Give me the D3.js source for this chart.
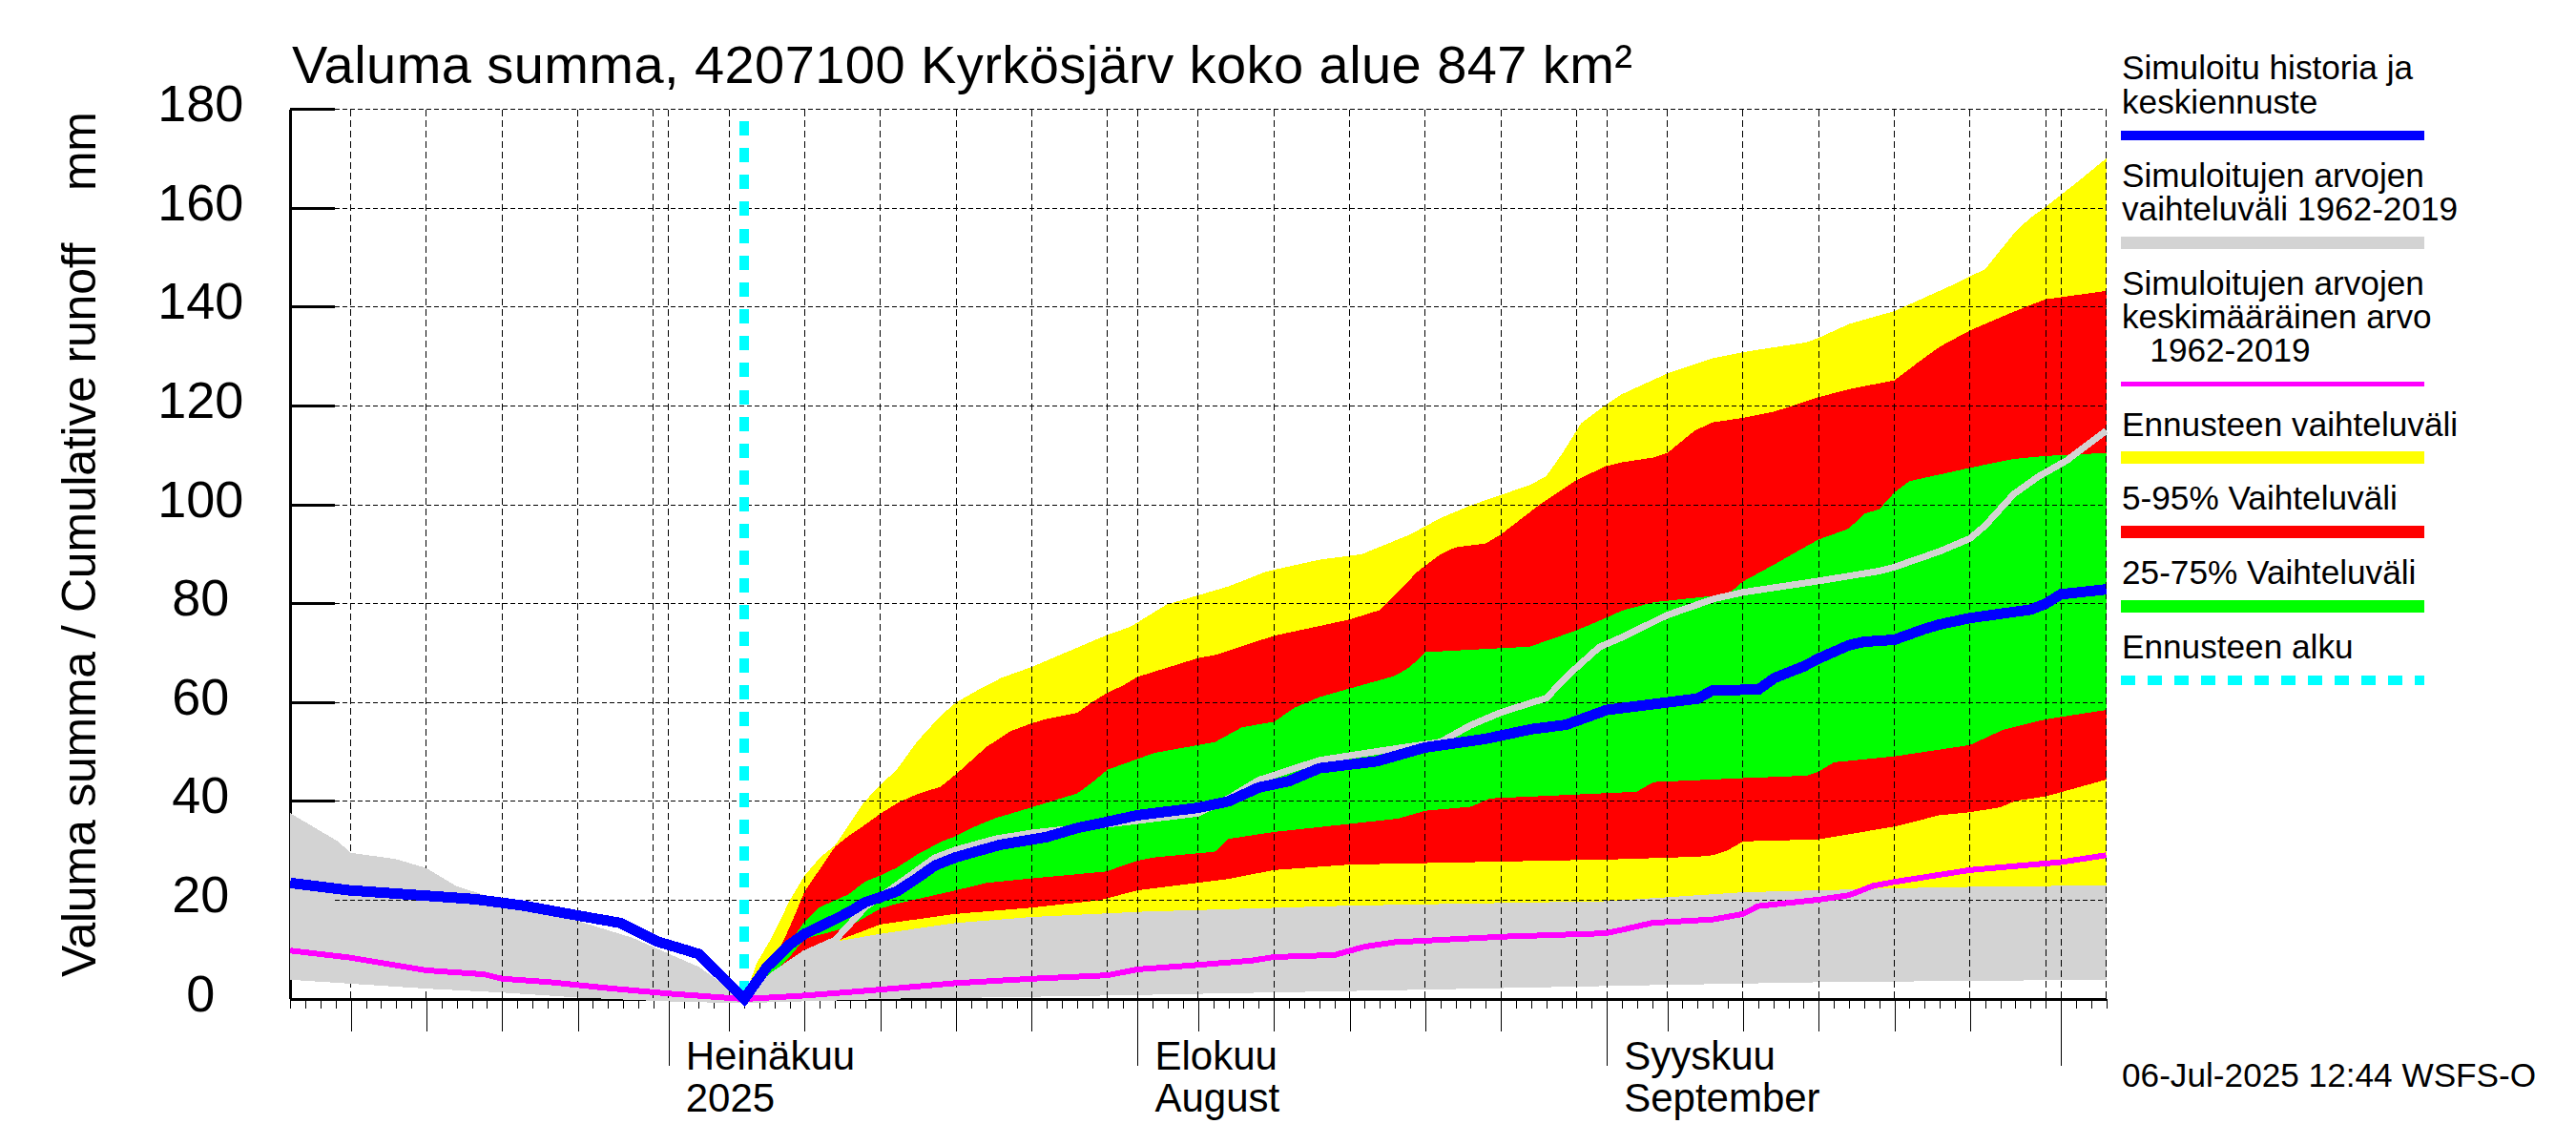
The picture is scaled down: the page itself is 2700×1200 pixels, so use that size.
<!DOCTYPE html>
<html>
<head>
<meta charset="utf-8">
<script src="https://cdnjs.cloudflare.com/ajax/libs/d3/7.8.5/d3.min.js"></script>
<style>
body { margin: 0; background: #fff; }
svg { display: block; font-family: "Liberation Sans", sans-serif; }
.marks { shape-rendering: crispEdges; }
</style>
</head>
<body>
<div id="chart"></div>
<script>
// all series are [day, mm], day 0 = 6 Jun 2025
var greyHistoryTop = [[0,37.6],[3.1,32],[4,29.6],[7,28.3],[9,26.5],[11,22.8],[13,20.9],[15,19.5],[19,15.8],[22.6,12.4],[27,6.5],[30,0]];
var greyLow = [[0,3.9],[9,2.1],[14,1.3],[19,0.3],[22,-0.1],[26,-0.6],[30,-0.8],[36,-0.3],[41.5,0.2],[43.9,0.2],[54,0.7],[75,1.9],[88,2.7],[101,3.4],[112,3.7],[120,3.9]];
var greyLine = [[30,0],[32,5],[34,9.2],[36,11.9],[38,18.6],[40.1,23.1],[42.6,28.6],[44,30.2],[46.6,32.4],[49,33.6],[51.9,34.6],[56,36.1],[60,37.6],[62,40.6],[64,44.3],[68,48.3],[72,50.2],[76,52],[78,55.4],[80,58],[83,60.9],[84.5,65.7],[86.5,71.2],[88,73.2],[91,77.7],[94.1,81],[96,82.3],[101,84.6],[105,86.6],[106,87.4],[109,90.6],[111,93.2],[112,95.8],[113.9,102.2],[115.5,105.7],[117.4,109],[120,115]];
var yellowTop = [[30,0],[30.8,7.1],[31.9,12.9],[33,19.9],[34,25],[35,28.6],[36,31.1],[37.9,39.8],[39,43.3],[40.1,46.5],[41.4,52],[43,57.4],[44,60],[45.6,62.8],[47,65],[49,67.2],[51,69.8],[54,73.7],[55.5,75.3],[57.9,79.8],[62,83.5],[64.5,86.5],[68,88.9],[70.8,90],[74,94],[76,97.3],[78,99.9],[80,102],[81.9,104],[83,105.8],[84.1,110.6],[85.3,116.5],[86.9,120.2],[88,122.4],[91,126.6],[93.9,129.6],[96,130.9],[100.2,132.9],[101,133.8],[103,136.6],[106,139.2],[109.7,144.3],[112,147.7],[114,155.3],[115,158.1],[116,160.3],[118.2,165.6],[120,170.1]];
var yellowLow = [[30,0],[32,5],[34,9.2],[36,11.6],[39,13.2],[44,15.4],[49,16.6],[56.5,17.7],[60,18],[70,18.9],[87,19.8],[88,20],[91,20.6],[96,21.6],[101,22],[106,22.4],[111,22.7],[120,23]];
var redTop = [[30,0],[32,8],[33,14.5],[34,21.8],[36,30.8],[36.9,33],[38,35.3],[39,37.5],[40.2,39.8],[41.4,41.4],[43,43],[44,45.5],[46,51],[47.6,54.2],[49,55.8],[50,56.7],[52,57.9],[52.9,59.9],[54,62],[55,63.4],[56,65.2],[60,69],[61.1,69.6],[65,73.5],[70,76.8],[72,78.7],[74.5,86.5],[76,90],[77,91.4],[79,92.2],[80,94],[82.5,99.9],[85,105],[86.9,107.8],[88,108.6],[90.1,109.6],[91,110.5],[92.8,115],[94,116.7],[96,117.6],[98.1,118.9],[101,121.8],[103,123.4],[106,125.2],[107.6,128.9],[109,132],[111,135.3],[113.2,138.2],[114.7,140.1],[116,141.6],[117.9,142.4],[120,143.3]];
var redLow = [[30,0],[32,5],[34,9.2],[36,11.6],[39,15.1],[43.9,17.2],[49,18.5],[53.5,20],[56,22],[62,24.3],[65,26.1],[70,27.2],[88,28.3],[93,28.8],[94,29.1],[95,30.1],[96,31.9],[101,32.3],[106,34.9],[109,37.2],[111,37.8],[113,38.8],[114,40.1],[116,41],[120,44.4]];
var greenTop = [[30,0],[32,7.5],[33,11.5],[34,15.7],[35,18.6],[36.9,21.2],[38,23.8],[39,25],[40.1,26.6],[41.4,29.2],[43,31.8],[44,33],[45,34.6],[46.6,36.6],[49,38.8],[52,41.6],[52.9,43.6],[54,46.4],[57.1,49.8],[61.1,52],[62.9,55],[65,56.1],[66.4,59],[68,61.1],[73,65.4],[74,67.2],[75,70.2],[81.9,71.3],[85,74.6],[87,77.2],[88,78.6],[90.1,80.3],[95,81.9],[96,84.5],[98.1,88],[100,91.3],[101,93],[103,95.2],[104,98.2],[105,99.1],[106,102.5],[107,104.8],[111,107.5],[113.9,109.3],[116,109.9],[120,110.5]];
var greenLow = [[30,0],[32,5.5],[33,8.5],[34,12.2],[36,13.8],[37,14.8],[39,18.3],[40.1,19.3],[44,22],[46,23.5],[49,24.4],[53.9,25.8],[56,28],[57.2,28.7],[61.1,29.8],[62,32.4],[65,33.8],[73.2,36.5],[75,38.1],[78,38.9],[79.3,40.6],[88,41.8],[89,42],[90.1,43.9],[96,44.7],[100.2,45.2],[101,46],[102,47.9],[106,49.1],[111,51.4],[113.2,54.5],[116,56.6],[120,58.5]];
var meanValues = [[0,9.8],[3.9,8.4],[9,5.8],[12.8,5],[14,4.1],[17.2,3.4],[21,2.2],[25,1.1],[30,0],[34,0.7],[39,1.9],[43.9,3.2],[49,4.1],[54,4.8],[56,6],[60,6.9],[63.6,7.8],[65,8.5],[69,8.9],[71,10.6],[73,11.5],[75,11.8],[80,12.6],[86.9,13.3],[88,14],[90,15.4],[94,16.1],[96,17.2],[97,18.8],[101,20.1],[103,21],[104.6,22.9],[106,23.7],[111,26.1],[117,27.7],[120,29.1]];
var forecastMean = [[0,23.5],[3.9,22],[9,20.9],[12.2,20.2],[15.4,18.9],[19,16.9],[21.8,15.4],[24.2,11.7],[27,9.1],[30,0],[31.5,6.5],[33,11],[34,13.2],[35.9,16],[37,17.7],[38,19.6],[39,20.6],[40.1,21.8],[41.4,24.4],[42.6,27],[44,28.7],[46.9,31.2],[50,32.8],[52,34.6],[53.9,35.8],[56,37.2],[60,38.7],[62,40],[64,42.8],[66,44.1],[68,46.7],[71.8,48.1],[75,50.9],[78.9,52.6],[82,54.6],[84.3,55.5],[87,58.5],[93,60.8],[94,62.5],[97,62.6],[98.1,65],[100,67.3],[101,68.9],[103,71.6],[104,72.3],[106,72.7],[108,74.9],[109,75.8],[111,77.1],[115,78.8],[116,80],[117,81.9],[120,82.9]];

var yTicks = [0, 20, 40, 60, 80, 100, 120, 140, 160, 180];
var forecastDay = 30;
var monthDays = [25, 56, 87, 117];
var fiveDays = [4, 9, 14, 19, 29, 34, 39, 44, 49, 60, 65, 70, 75, 80, 91, 96, 101, 106, 111];
var shortGridDays = [24, 54, 85, 116, 120];
var monthLabels = [
    {day: 25, lines: ["Heinäkuu", "2025"]},
    {day: 56, lines: ["Elokuu", "August"]},
    {day: 87, lines: ["Syyskuu", "September"]}
];
var legendText = [
    {lines: ["Simuloitu historia ja", "keskiennuste"], color: "#0000ff", size: 10},
    {lines: ["Simuloitujen arvojen", "vaihteluväli 1962-2019"], color: "#d3d3d3", size: 13},
    {lines: ["Simuloitujen arvojen", "keskimääräinen arvo", "   1962-2019"], color: "#ff00ff", size: 5},
    {lines: ["Ennusteen vaihteluväli"], color: "#ffff00", size: 13},
    {lines: ["5-95% Vaihteluväli"], color: "#ff0000", size: 13},
    {lines: ["25-75% Vaihteluväli"], color: "#00ff00", size: 13},
    {lines: ["Ennusteen alku"], color: "#00ffff", size: 10, dash: "15,13"}
];
var legendBaselines = [[83.4, 118.6], [196, 230.8], [308.8, 344.4, 378.9], [457.3], [533.9], [612.2], [690]];
var legendSwatchY = [141.6, 254.5, 402.2, 479.5, 557.6, 635.6, 712.9];

var svg = d3.select("#chart").append("svg")
    .attr("width", 2700)
    .attr("height", 1200);

var xScale = d3.scaleLinear().domain([0, 120]).range([304.2, 2207.6]);
var yScale = d3.scaleLinear().domain([0, 180]).range([1047, 114.8]);

var marks = svg.append("g").attr("class", "marks");

var line = d3.line()
    .x(function(d){ return xScale(d[0]); })
    .y(function(d){ return yScale(d[1]); });

function band(top, low) {
    return line(top.concat(low.slice().reverse())) + "Z";
}

function bottomAxis(days, size) {
    var g = marks.append("g")
        .attr("transform", "translate(0," + yScale(0) + ")")
        .call(d3.axisBottom(xScale).tickValues(days).tickSize(size).tickFormat(""));
    g.select(".domain").remove();
    g.selectAll("line").attr("stroke", "#000").attr("stroke-width", 1);
}

// axes go first, the grey band covers them in places
bottomAxis(d3.range(0, 121), 10);
bottomAxis(fiveDays, 34);
bottomAxis(monthDays, 70);

marks.append("line")
    .attr("x1", xScale(0)).attr("x2", xScale(120))
    .attr("y1", yScale(0)).attr("y2", yScale(0))
    .attr("stroke", "#000").attr("stroke-width", 3);
marks.append("line")
    .attr("x1", xScale(0)).attr("x2", xScale(0))
    .attr("y1", yScale(180)).attr("y2", yScale(0))
    .attr("stroke", "#000").attr("stroke-width", 3);

var yAxis = svg.append("g")
    .attr("transform", "translate(" + xScale(0) + ",0)")
    .call(d3.axisLeft(yScale).tickValues(yTicks).tickSize(0).tickFormat(d3.format("d")));
yAxis.select(".domain").remove();
yAxis.selectAll("text")
    .attr("x", -94)
    .attr("dy", 12)
    .attr("text-anchor", "middle")
    .attr("font-family", "Liberation Sans")
    .attr("font-size", 54)
    .attr("fill", "#000");

marks.selectAll(".y-tick")
    .data(yTicks.slice(1))
    .enter().append("line")
    .attr("class", "y-tick")
    .attr("x1", xScale(0)).attr("x2", 351)
    .attr("y1", function(d){ return yScale(d); })
    .attr("y2", function(d){ return yScale(d); })
    .attr("stroke", "#000")
    .attr("stroke-width", function(d){ return d == 20 ? 1 : 3; });

function vGrid(days) {
    marks.append("g").selectAll("line")
        .data(days)
        .enter().append("line")
        .attr("x1", function(d){ return xScale(d); })
        .attr("x2", function(d){ return xScale(d); })
        .attr("y1", yScale(180))
        .attr("y2", yScale(0))
        .attr("stroke", "#000")
        .attr("stroke-width", 1)
        .attr("stroke-dasharray", "7,4");
}

// these two sit under the grey band in the picture
vGrid([4, 9]);

marks.append("path")
    .attr("d", band(greyHistoryTop.concat(greyLine.slice(1)), greyLow))
    .attr("fill", "#d3d3d3");
marks.append("path").attr("d", band(yellowTop, yellowLow)).attr("fill", "#ffff00");
marks.append("path").attr("d", band(redTop, redLow)).attr("fill", "#ff0000");
marks.append("path").attr("d", band(greenTop, greenLow)).attr("fill", "#00ff00");

vGrid(fiveDays.concat(monthDays, shortGridDays).filter(function(d){ return d != 4 && d != 9; }));

marks.append("g").selectAll("line")
    .data(yTicks.slice(1))
    .enter().append("line")
    .attr("x1", 351).attr("x2", xScale(120))
    .attr("y1", function(d){ return yScale(d); })
    .attr("y2", function(d){ return yScale(d); })
    .attr("stroke", "#000")
    .attr("stroke-width", 1)
    .attr("stroke-dasharray", "5,3");

marks.append("line")
    .attr("x1", xScale(forecastDay)).attr("x2", xScale(forecastDay))
    .attr("y1", 127).attr("y2", yScale(0))
    .attr("stroke", "#00ffff")
    .attr("stroke-width", 10)
    .attr("stroke-dasharray", "15,13.15");

function drawLine(data, color, width) {
    marks.append("path")
        .attr("d", line(data))
        .attr("fill", "none")
        .attr("stroke", color)
        .attr("stroke-width", width);
}
drawLine(greyLine, "#d3d3d3", 7);
drawLine(meanValues, "#ff00ff", 6);
drawLine(forecastMean, "#0000ff", 11);

// texts
svg.append("text")
    .attr("x", 306).attr("y", 87)
    .attr("font-size", 56)
    .attr("textLength", 1405)
    .text("Valuma summa, 4207100 Kyrkösjärv koko alue 847 km²");

svg.append("text")
    .attr("transform", "translate(100,1024) rotate(-90)")
    .attr("font-size", 50)
    .attr("textLength", 907)
    .style("white-space", "pre")
    .text("Valuma summa / Cumulative runoff    mm");

monthLabels.forEach(function(m) {
    m.lines.forEach(function(t, i) {
        svg.append("text")
            .attr("x", xScale(m.day) + 18)
            .attr("y", 1120.5 + i * 44)
            .attr("font-size", 42)
            .text(t);
    });
});

legendText.forEach(function(d, i) {
    d.lines.forEach(function(t, j) {
        svg.append("text")
            .attr("x", 2224)
            .attr("y", legendBaselines[i][j])
            .attr("font-size", 35.2)
            .style("white-space", "pre")
            .text(t);
    });
    marks.append("line")
        .attr("x1", 2223).attr("x2", 2541)
        .attr("y1", legendSwatchY[i]).attr("y2", legendSwatchY[i])
        .attr("stroke", d.color)
        .attr("stroke-width", d.size)
        .attr("stroke-dasharray", d.dash || null);
});

svg.append("text")
    .attr("x", 2224).attr("y", 1138.8)
    .attr("font-size", 35.2)
    .text("06-Jul-2025 12:44 WSFS-O");
</script>
</body>
</html>
